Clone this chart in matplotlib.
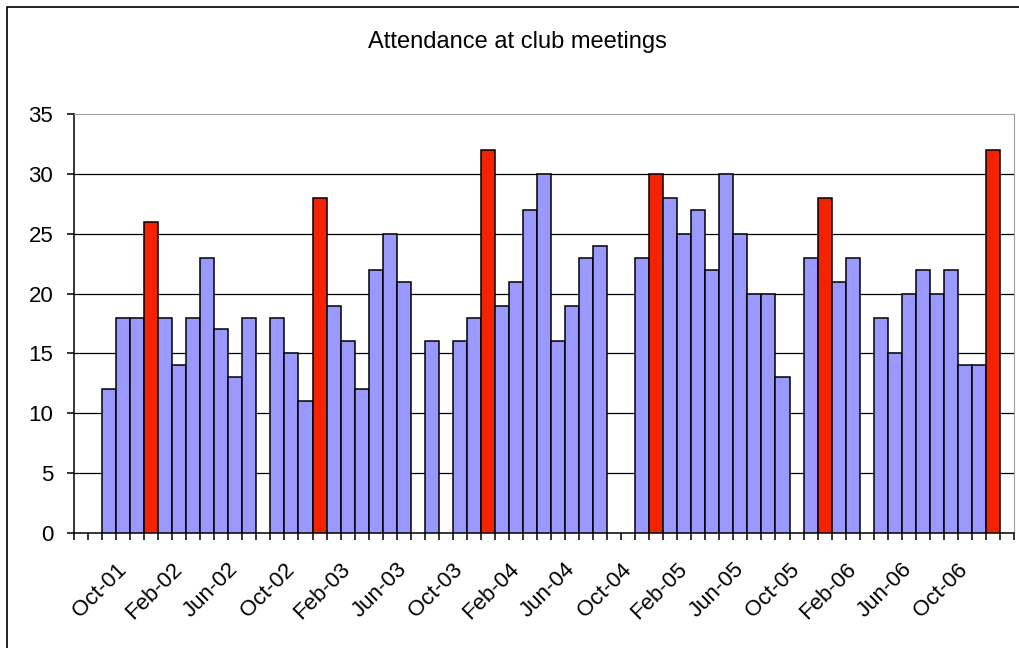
import matplotlib
matplotlib.use("Agg")
import matplotlib.pyplot as plt
from matplotlib.patches import Rectangle
import pandas as pd

# monthly meetings, Jul-01 .. Jan-07 (None = no meeting that month)
months = pd.period_range("2001-07", "2007-01", freq="M")
attendance = [
    None, None, 12, 18, 18, 26,                      # Jul-01 .. Dec-01
    18, 14, 18, 23, 17, 13, 18, None, 18, 15, 11, 28,  # 2002
    19, 16, 12, 22, 25, 21, None, 16, None, 16, 18, 32,  # 2003
    19, 21, 27, 30, 16, 19, 23, 24, None, None, 23, 30,  # 2004
    28, 25, 27, 22, 30, 25, 20, 20, 13, None, 23, 28,  # 2005
    21, 23, None, 18, 15, 20, 22, 20, 22, 14, 14, 32,  # 2006
    None,                                            # Jan-07
]
tick_labels = ["Oct-01", "Feb-02", "Jun-02", "Oct-02", "Feb-03", "Jun-03",
               "Oct-03", "Feb-04", "Jun-04", "Oct-04", "Feb-05", "Jun-05",
               "Oct-05", "Feb-06", "Jun-06", "Oct-06"]

blue = "#9999FF"
red = "#F52200"

plt.rcParams["font.family"] = ["Liberation Sans", "DejaVu Sans"]

fig = plt.figure(figsize=(10.19, 6.48), dpi=100)
ax = fig.add_axes([74 / 1019, 1 - 533 / 648, 940 / 1019, 419 / 648])

xs = [i for i, v in enumerate(attendance) if v is not None]
vals = [v for v in attendance if v is not None]
cols = [red if months[i].month == 12 else blue for i in xs]
ax.bar(xs, vals, width=1.0, align="edge", color=cols,
       edgecolor="black", linewidth=1.1, zorder=3)

ax.set_xlim(0, len(months))
ax.set_ylim(0, 35)
ax.set_yticks(range(0, 36, 5))
for y in range(5, 35, 5):
    ax.axhline(y, color="black", linewidth=0.9, zorder=1)

# ticks at every month boundary, labels under the labelled months
ax.set_xticks(range(len(months) + 1))
ax.set_xticklabels([])
names = [m.strftime("%b-%y") for m in months]
for lab in tick_labels:
    i = names.index(lab)
    ax.annotate(lab, xy=(i + 0.5, 0), xycoords=("data", "axes fraction"),
                xytext=(0, -24), textcoords="offset points",
                rotation=45, ha="right", va="center", rotation_mode="anchor",
                fontsize=16)

ax.tick_params(axis="both", direction="out", length=5, width=1.1,
               color="black", labelsize=16)
ax.tick_params(axis="y", pad=10)

ax.spines["left"].set_color("black")
ax.spines["bottom"].set_color("black")
ax.spines["left"].set_linewidth(1.1)
ax.spines["bottom"].set_linewidth(1.1)
ax.spines["top"].set_color("#A0A0A0")
ax.spines["right"].set_color("#A0A0A0")

fig.text(517 / 1019, 1 - 42 / 648, "Attendance at club meetings",
         ha="center", va="center", fontsize=17)

# outer chart frame (cut off at right and bottom)
fig.add_artist(Rectangle((7 / 1019, -0.1), 2, 1 - 7 / 648 + 0.1,
                         transform=fig.transFigure, fill=False,
                         edgecolor="black", linewidth=1.2))

fig.savefig("out.png", dpi=100)
